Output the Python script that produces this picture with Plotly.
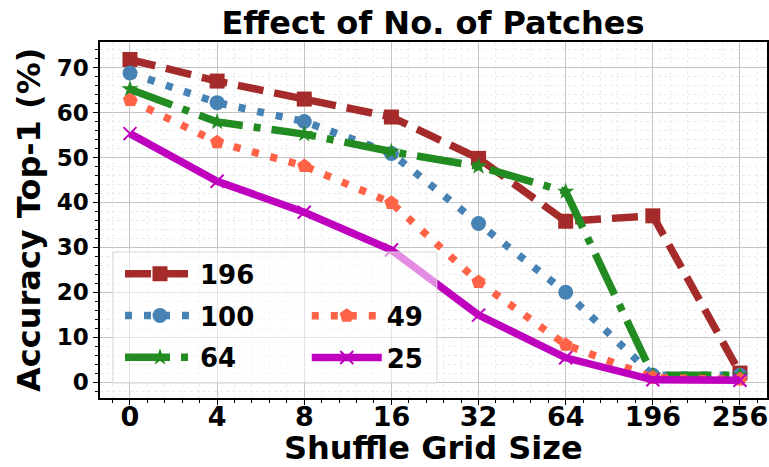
import plotly.graph_objects as go

categories = ["0", "4", "8", "16", "32", "64", "196", "256"]
series_names = ["196", "100", "64", "49", "25"]
acc_196 = [71.8, 67.0, 63.0, 59.0, 49.8, 35.8, 37.0, 2.0]
acc_100 = [68.8, 62.2, 58.0, 50.9, 35.3, 20.0, 1.5, 1.5]
acc_64 = [65.2, 57.9, 55.2, 51.3, 48.0, 42.4, 1.5, 1.5]
acc_49 = [62.8, 53.4, 48.1, 39.9, 22.3, 8.3, 1.0, 0.6]
acc_25 = [55.3, 44.7, 37.8, 29.4, 14.9, 5.4, 0.5, 0.4]
y_ticks = [0, 10, 20, 30, 40, 50, 60, 70]

values = [acc_196, acc_100, acc_64, acc_49, acc_25]
colors = ["#a52a2a", "#4682b4", "#228b22", "#ff6347", "#bf00bf"]
dashes = ["26px,11px", "7px,12px", "45px,11px,7px,11px", "7px,12px", "solid"]
symbols = ["square", "circle", "star", "pentagon", "x-thin"]
msizes = [15, 15, 13, 15, 13]
legends = ["legend", "legend", "legend", "legend2", "legend2"]

xpos = list(range(len(categories)))
FONT = "DejaVu Sans"

fig = go.Figure()
for name, vals, c, d, s, ms, lg in zip(series_names, values, colors, dashes, symbols, msizes, legends):
    mline = dict(width=2, color=c) if s == "x-thin" else dict(width=0)
    fig.add_trace(go.Scatter(
        x=xpos, y=vals, name=name, mode="lines+markers",
        line=dict(color=c, width=7.5, dash=d),
        marker=dict(symbol=s, size=ms, color=c, line=mline),
        legend=lg, legendgroup=name,
    ))

# legend frame (semi-transparent, over the lines like the original)
fig.add_shape(type="rect", xref="paper", yref="paper",
              x0=0.0195, x1=0.505, y0=0.042, y1=0.41,
              line=dict(color="#d8d8d8", width=1),
              fillcolor="rgba(255,255,255,0.55)", layer="above")

# axis titles
fig.add_annotation(text="<b>Shuffle Grid Size</b>", xref="paper", yref="paper",
                   x=0.5, y=-0.14, xanchor="center", yanchor="middle", showarrow=False,
                   borderpad=0, font=dict(family=FONT, size=32, color="black"))
fig.add_annotation(text="<b>Accuracy Top-1 (%)</b>", xref="paper", yref="paper",
                   x=-0.1065, y=0.5, xanchor="center", yanchor="middle", showarrow=False,
                   borderpad=0, textangle=-90, font=dict(family=FONT, size=32, color="black"))

legfont = dict(family=FONT, size=26, color="black", weight="bold")
fig.update_layout(
    width=769, height=467,
    margin=dict(l=100, r=2, t=42, b=69),
    paper_bgcolor="white", plot_bgcolor="white",
    title=dict(text="<b>Effect of No. of Patches</b>", x=0.563, xanchor="center",
               y=0.952, yanchor="middle", yref="container",
               font=dict(family=FONT, size=32, color="black")),
    font=dict(family=FONT, color="black"),
    legend=dict(x=0.03, y=0.047, xanchor="left", yanchor="bottom",
                bgcolor="rgba(0,0,0,0)", borderwidth=0, font=legfont,
                tracegroupgap=5, itemwidth=70),
    legend2=dict(x=0.31, y=0.047, xanchor="left", yanchor="bottom",
                 bgcolor="rgba(0,0,0,0)", borderwidth=0, font=legfont,
                 tracegroupgap=5, itemwidth=70),
    showlegend=True,
)
fig.update_xaxes(
    range=[-0.344, 7.31], tickmode="array", tickvals=xpos, ticktext=categories,
    automargin=False, ticklabelstandoff=-11,
    tickfont=dict(family=FONT, size=27, color="black", weight="bold"),
    showline=True, linecolor="black", linewidth=1.5, mirror=True,
    ticks="outside", ticklen=5, tickwidth=1.2, tickcolor="black",
    showgrid=True, gridcolor="#c4c4c4", gridwidth=1, zeroline=False,
    minor=dict(dtick=0.2, tick0=0, ticks="outside", ticklen=3, tickcolor="black",
               showgrid=True, gridcolor="#ebebeb", griddash="3px,3px", gridwidth=1),
)
fig.update_yaxes(
    range=[-3.55, 75.7], tickmode="array", tickvals=y_ticks,
    automargin=False,
    tickfont=dict(family=FONT, size=23, color="black", weight="bold"),
    showline=True, linecolor="black", linewidth=1.5, mirror=True,
    ticks="outside", ticklen=5, tickwidth=1.2, tickcolor="black",
    showgrid=True, gridcolor="#c4c4c4", gridwidth=1, zeroline=False,
    minor=dict(dtick=2, tick0=0, ticks="outside", ticklen=3, tickcolor="black",
               showgrid=True, gridcolor="#ebebeb", griddash="3px,3px", gridwidth=1),
)
fig.write_html("out.html")
